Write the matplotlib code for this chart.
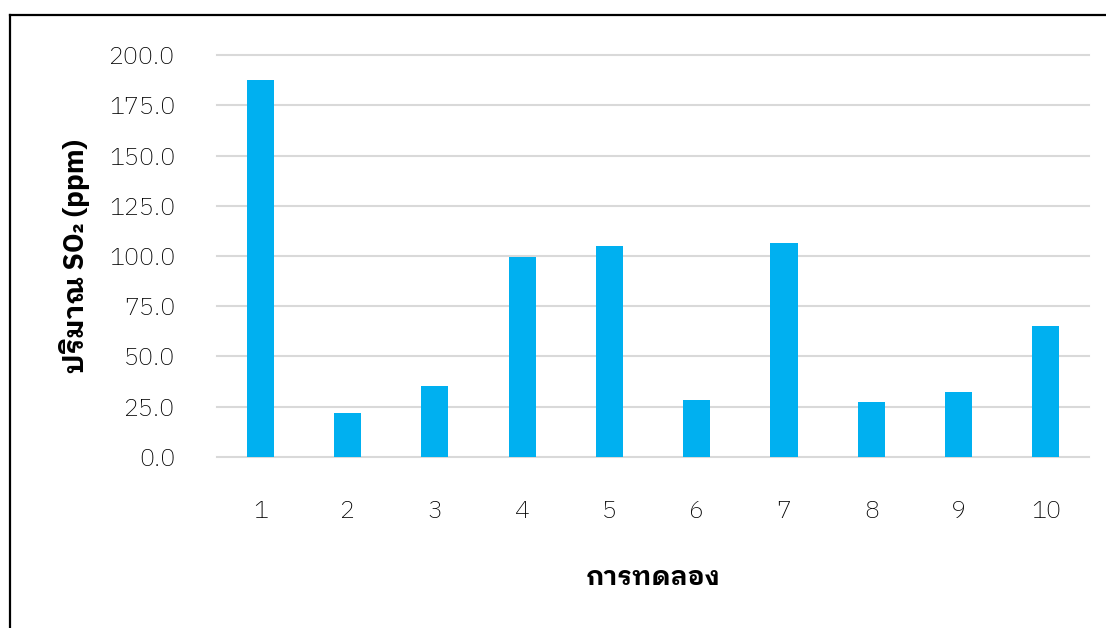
import numpy as np
import matplotlib
matplotlib.use('Agg')
import matplotlib.pyplot as plt
from matplotlib.lines import Line2D

# ปริมาณ SO2 ในแต่ละการทดลอง
runs = ['1', '2', '3', '4', '5', '6', '7', '8', '9', '10']
so2_ppm = [187.6, 21.9, 35.2, 99.5, 105.0, 28.4, 106.5, 27.5, 32.1, 65.2]
yticks = [0, 25, 50, 75, 100, 125, 150, 175, 200]

thai = ['IBM Plex Sans Thai Looped', 'DejaVu Sans']
plt.rcParams['font.family'] = thai


def main():
    fig = plt.figure(figsize=(11.06, 6.28), dpi=100)
    ax = fig.add_axes([0.196, 0.2723, 0.789, 0.6401])

    x = np.arange(len(runs))
    ax.bar(x, so2_ppm, width=0.31, color='#00b0f0', zorder=3)

    ax.set_xlim(-0.5, len(runs) - 0.5)
    ax.set_ylim(0, 200)
    ax.set_yticks(yticks)
    ax.set_yticklabels(['%.1f' % v for v in yticks])
    ax.set_xticks(x)
    ax.set_xticklabels(runs)
    ax.grid(axis='y', color='#d9d9d9', linewidth=1.5, zorder=0)
    for gl in ax.get_ygridlines():
        gl.set_clip_on(False)
    for s in ax.spines.values():
        s.set_visible(False)
    ax.tick_params(axis='both', length=0, labelsize=18, colors='black')
    ax.tick_params(axis='y', pad=30)
    ax.tick_params(axis='x', pad=31)
    for lab in ax.get_xticklabels() + ax.get_yticklabels():
        lab.set_fontweight('light')

    ax.set_ylabel('ปริมาณ SO₂ (ppm)', fontsize=20, fontweight='bold')
    ax.yaxis.set_label_coords(-0.145, 0.5)
    ax.set_xlabel('การทดลอง', fontsize=19, fontweight='bold')
    ax.xaxis.set_label_coords(0.5, -0.27)

    # กรอบด้านบนและด้านซ้าย
    fig.add_artist(Line2D([0.009, 1.0], [0.976, 0.976], color='black', linewidth=1.6))
    fig.add_artist(Line2D([0.009, 0.009], [0.0, 0.976], color='black', linewidth=1.6))

    fig.savefig('out.png', dpi=100)


if __name__ == "__main__":
    main()
